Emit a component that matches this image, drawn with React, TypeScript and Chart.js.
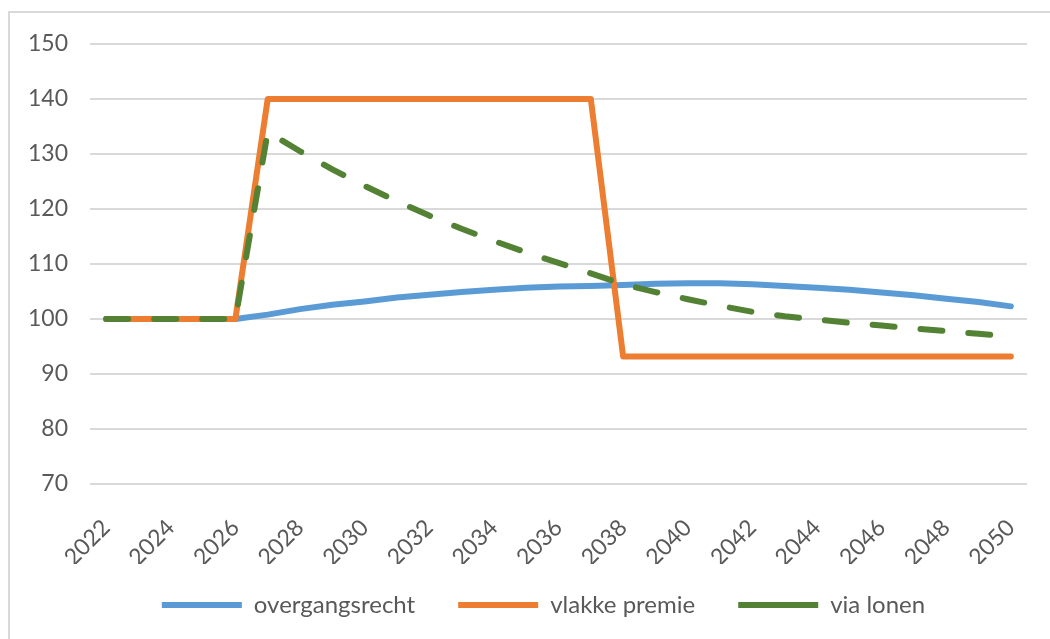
import React, { useEffect, useRef } from "react";
import { Chart, registerables } from "chart.js";

Chart.register(...registerables);

const years = ["2022","2023","2024","2025","2026","2027","2028","2029","2030","2031","2032","2033","2034","2035","2036","2037","2038","2039","2040","2041","2042","2043","2044","2045","2046","2047","2048","2049","2050"];

const overgangsrecht = [100,100,100,100,100,100.8,101.8,102.6,103.2,103.9,104.4,104.9,105.3,105.7,105.9,106.0,106.2,106.4,106.5,106.5,106.3,106.0,105.7,105.3,104.8,104.3,103.7,103.1,102.3];
const vlakkePremie = [100,100,100,100,100,140,140,140,140,140,140,140,140,140,140,140,93.2,93.2,93.2,93.2,93.2,93.2,93.2,93.2,93.2,93.2,93.2,93.2,93.2];
const viaLonen = [100,100,100,100,100,134,130.5,127.2,124.2,121.4,118.8,116.4,114.2,112.1,110.2,108.3,106.3,104.9,103.6,102.4,101.3,100.5,99.9,99.3,98.8,98.3,97.8,97.3,96.8];

const yTicks = { min: 70, max: 150, step: 10 };

const FONT = "Lato, 'Liberation Sans', sans-serif";
const TEXT = "#595959";
const GRID = "#d9d9d9";

const legendPlace = {
  id: "legendPlace",
  afterLayout(chart: any) {
    const lg = chart.legend;
    if (lg) {
      const h = lg.height;
      lg.left += 30;
      lg.right += 30;
      lg.top = 550;
      lg.bottom = 550 + h;
    }
  },
};

export default function App() {
  const ref = useRef<HTMLCanvasElement | null>(null);

  useEffect(() => {
    if (!ref.current) return;
    const chart = new Chart(ref.current, {
      type: "line",
      data: {
        labels: years,
        datasets: [
          {
            label: "overgangsrecht",
            data: overgangsrecht,
            borderColor: "#5B9BD5",
            backgroundColor: "#5B9BD5",
            borderWidth: 6,
            pointRadius: 0,
            tension: 0,
            borderCapStyle: "round",
            borderJoinStyle: "round",
            order: 2,
          },
          {
            label: "vlakke premie",
            data: vlakkePremie,
            borderColor: "#ED7D31",
            backgroundColor: "#ED7D31",
            borderWidth: 6,
            pointRadius: 0,
            tension: 0,
            borderCapStyle: "round",
            borderJoinStyle: "round",
            order: 1,
          },
          {
            label: "via lonen",
            data: viaLonen,
            borderColor: "#548235",
            backgroundColor: "#548235",
            borderWidth: 6,
            borderDash: [22, 26],
            pointRadius: 0,
            tension: 0,
            borderCapStyle: "round",
            borderJoinStyle: "round",
            order: 0,
          },
        ],
      },
      options: {
        responsive: false,
        animation: false,
        devicePixelRatio: 1,
        layout: { padding: { left: 0, right: 23, top: 44, bottom: 0 } },
        plugins: {
          tooltip: { enabled: false },
          legend: {
            position: "bottom",
            maxHeight: 75,
            labels: {
              usePointStyle: true,
              pointStyle: "line",
              pointStyleWidth: 80,
              padding: 43,
              color: TEXT,
              font: { family: FONT, size: 24 },
              sort: (a: any, b: any) => a.datasetIndex - b.datasetIndex,
            },
          },
        },
        scales: {
          x: {
            offset: true,
            grid: { display: false, drawTicks: false },
            border: { display: false },
            afterFit: (s: any) => {
              s.height = 80;
              s.paddingLeft = 0;
              s.paddingRight = 0;
            },
            ticks: {
              autoSkip: false,
              minRotation: 45,
              maxRotation: 45,
              padding: 30,
              color: TEXT,
              font: { family: FONT, size: 23 },
              callback: function (this: any, value: any, index: number) {
                return index % 2 === 0 ? this.getLabelForValue(value) : "";
              },
            },
          },
          y: {
            min: yTicks.min,
            max: yTicks.max,
            afterFit: (s: any) => {
              s.width = 90;
            },
            grid: { color: GRID, lineWidth: 2, drawTicks: false },
            border: { display: false },
            ticks: {
              stepSize: yTicks.step,
              padding: 22,
              color: TEXT,
              font: { family: FONT, size: 23 },
            },
          },
        },
      },
      plugins: [legendPlace],
    });
    return () => chart.destroy();
  }, []);

  return (
    <div
      style={{
        position: "fixed",
        left: 0,
        top: 0,
        width: 1050,
        height: 639,
        background: "#fff",
        overflow: "hidden",
      }}
    >
      <div
        style={{
          position: "absolute",
          left: 8,
          top: 11,
          width: 1200,
          height: 800,
          border: "2px solid #d9d9d9",
        }}
      />
      <canvas
        ref={ref}
        width={1050}
        height={639}
        style={{ position: "absolute", left: 0, top: 0 }}
      />
    </div>
  );
}
